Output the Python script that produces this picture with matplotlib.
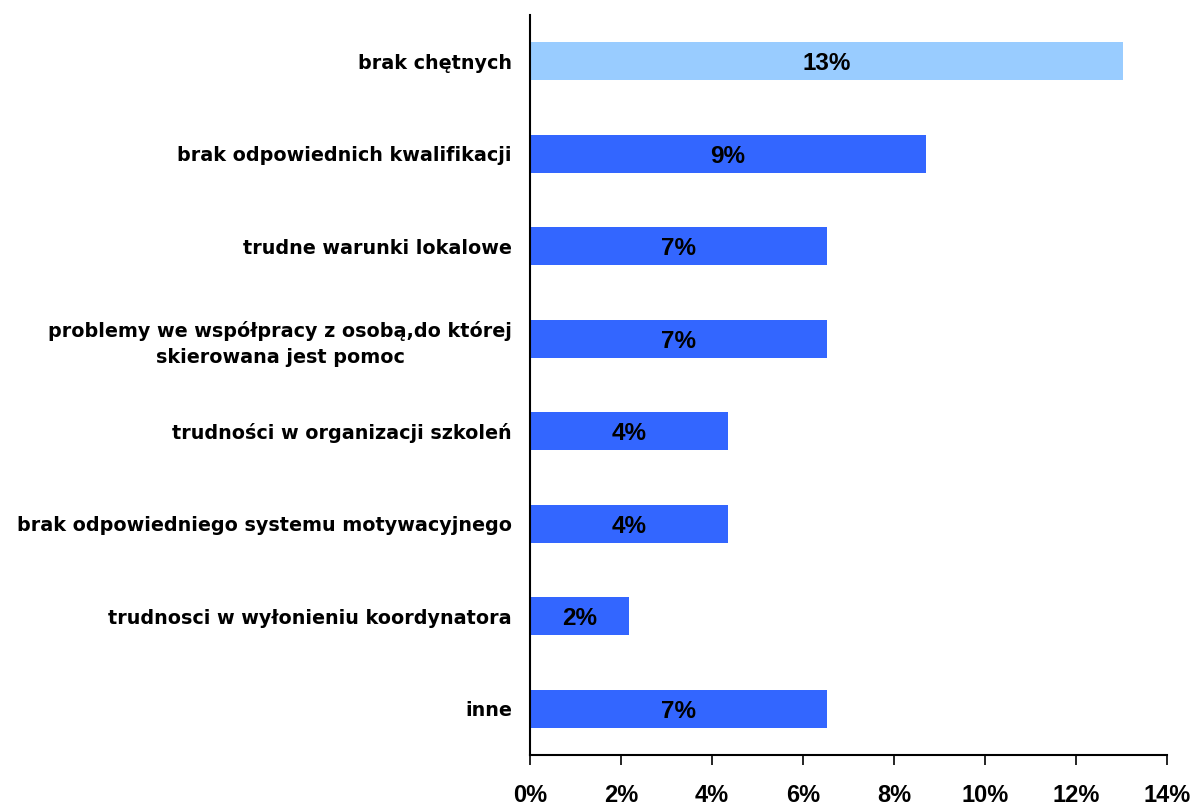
import matplotlib.pyplot as plt
from matplotlib.ticker import FuncFormatter

# Survey answers: share of respondents per difficulty (n = 46)
categories = [
    "brak chętnych",
    "brak odpowiednich kwalifikacji",
    "trudne warunki lokalowe",
    "problemy we współpracy z osobą,do której\nskierowana jest pomoc",
    "trudności w organizacji szkoleń",
    "brak odpowiedniego systemu motywacyjnego",
    "trudnosci w wyłonieniu koordynatora",
    "inne",
]
shares = [13.04, 8.70, 6.52, 6.52, 4.35, 4.35, 2.17, 6.52]
bar_colors = ["#99CCFF"] + ["#3366FF"] * 7
x_ticks = [0, 2, 4, 6, 8, 10, 12, 14]

plt.rcParams['font.family'] = ['Liberation Sans', 'DejaVu Sans']

fig = plt.figure(figsize=(11.97, 8.05), dpi=100)
ax = fig.add_axes([0.4428, 0.0621, 0.5322, 0.9193])

pos = list(range(len(categories)))
ax.barh(pos, shares, height=0.41, color=bar_colors)
ax.set_ylim(len(categories) - 0.5, -0.5)
ax.set_xlim(0, 14)

for p, v in zip(pos, shares):
    ax.text(v / 2, p, f"{v:.0f}%", ha='center', va='center_baseline',
            fontsize=17.5, fontweight='bold', color='black')

ax.set_yticks(pos)
ax.set_yticklabels(categories, fontsize=13.8, fontweight='bold',
                   family='DejaVu Sans', multialignment='center',
                   linespacing=1.45)
ax.tick_params(axis='y', length=0, pad=13)

ax.set_xticks(x_ticks)
ax.xaxis.set_major_formatter(FuncFormatter(lambda v, _: f"{v:.0f}%"))
ax.tick_params(axis='x', length=7, width=1.2, pad=14, labelsize=17)
for lbl in ax.get_xticklabels():
    lbl.set_fontweight('bold')
    lbl.set_family(['Liberation Sans Narrow', 'Liberation Sans'])

for side in ('top', 'right'):
    ax.spines[side].set_visible(False)
for side in ('left', 'bottom'):
    ax.spines[side].set_linewidth(1.5)

fig.savefig("out.png", dpi=100)
